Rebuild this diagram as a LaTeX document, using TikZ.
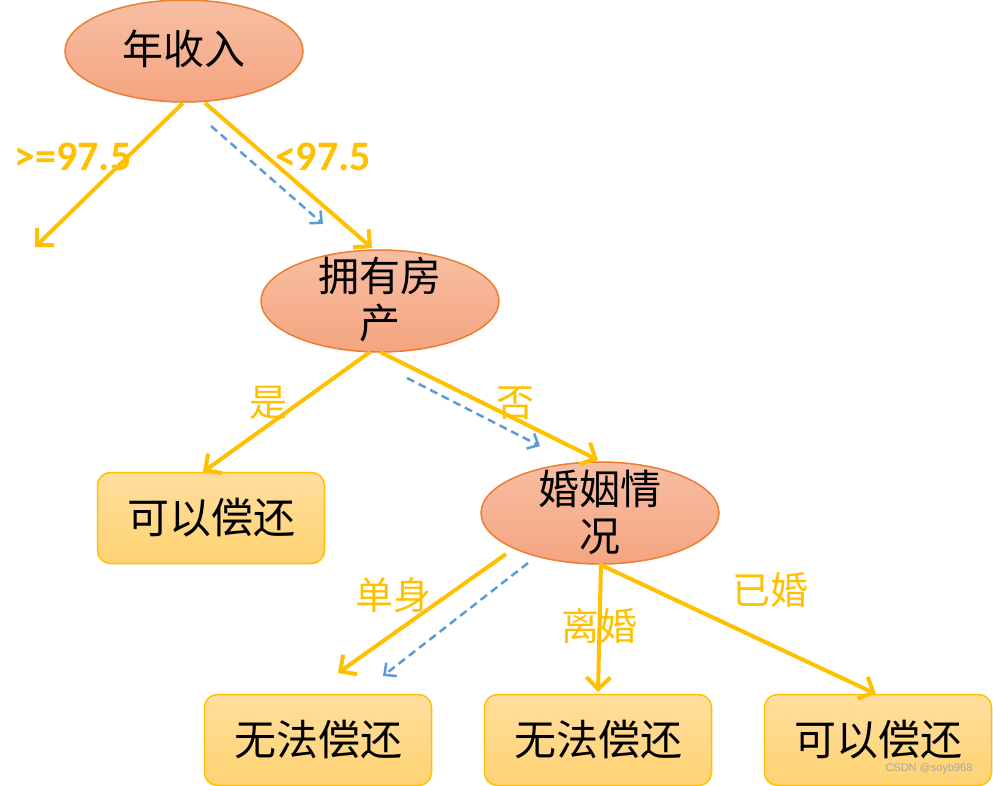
\documentclass[tikz,border=0pt]{standalone}
\usepackage{fontspec}
\newfontfamily\cjk{Noto Sans CJK SC}
\newfontfamily\lat{Carlito}
\newfontfamily\wm{Liberation Sans}
\usetikzlibrary{arrows.meta,shapes.geometric}
\definecolor{yel}{HTML}{FFC000}
\definecolor{ebord}{HTML}{ED7D31}
\definecolor{etop}{HTML}{F7BEA3}
\definecolor{ebot}{HTML}{F5A580}
\definecolor{btop}{HTML}{FFDE9E}
\definecolor{bbot}{HTML}{FFD372}
\definecolor{blu}{HTML}{5B9BD5}
\begin{document}
\begin{tikzpicture}[x=1pt,y=-1pt,
  ell/.style={ellipse, draw=ebord, line width=1.5pt, top color=etop, bottom color=ebot,
    minimum width=238pt, minimum height=102pt, inner sep=0pt},
  etext/.style={align=center, inner sep=0pt, font=\cjk\fontsize{41}{47}\selectfont},
  leaf/.style={rectangle, rounded corners=13pt, draw=yel, line width=1.5pt, top color=btop, bottom color=bbot,
    minimum width=227pt, minimum height=91pt, inner sep=0pt,
    font=\cjk\fontsize{42}{46}\selectfont},
  yarr/.style={draw=yel, line width=4pt, -{Straight Barb[length=12pt,width=24pt]}},
  barr/.style={draw=blu, line width=2.5pt, dash pattern=on 8pt off 5pt, -{Straight Barb[length=9pt,width=17pt]}},
  ylab/.style={text=yel, font=\cjk\fontsize{38}{40}\selectfont},
  nlab/.style={text=yel, font=\lat\bfseries\fontsize{42}{44}\selectfont}
]
\useasboundingbox (0,0) rectangle (993,786);
% nodes
\node[ell] (inc) at (184,51) {};
\node[etext] (inct) at (184,49) {年收入};
\node[ell] (house) at (380,301) {};
\node[etext] (houset) at (380,300) {拥有房\\产};
\node[ell] (mar) at (600,513) {};
\node[etext] (mart) at (600,512) {婚姻情\\况};
\node[leaf] (yes1) at (211,518) {可以偿还};
\node[leaf] (no1) at (318,740) {无法偿还};
\node[leaf] (no2) at (598,740) {无法偿还};
\node[leaf] (yes2) at (878,740) {可以偿还};
% coordinates
\coordinate (a1s) at (183,103);
\coordinate (a1e) at (35,247);
\coordinate (a2s) at (205,103);
\coordinate (a2e) at (372,248);
\coordinate (b1s) at (211,126);
\coordinate (b1e) at (323,224);
\coordinate (a3s) at (370,352);
\coordinate (a3e) at (203,472);
\coordinate (a4s) at (380,352);
\coordinate (a4e) at (598,460);
\coordinate (b2s) at (407,378);
\coordinate (b2e) at (540,446);
\coordinate (a5s) at (506,554);
\coordinate (a5e) at (338,673);
\coordinate (b3s) at (528,563);
\coordinate (b3e) at (383,676);
\coordinate (a6s) at (601,563);
\coordinate (a6e) at (598,692);
\coordinate (a7s) at (601,565);
\coordinate (a7e) at (876,694);
% connectors
\draw[yarr] (a1s) -- (a1e);
\draw[yarr] (a2s) -- (a2e);
\draw[barr] (b1s) -- (b1e);
\draw[yarr] (a3s) -- (a3e);
\draw[yarr] (a4s) -- (a4e);
\draw[barr] (b2s) -- (b2e);
\draw[yarr] (a5s) -- (a5e);
\draw[barr] (b3s) -- (b3e);
\draw[yarr] (a6s) -- (a6e);
\draw[yarr] (a7s) -- (a7e);
% labels
\node[nlab] (l1) at (73,157) {>=97.5};
\node[nlab] (l2) at (323,157) {<97.5};
\node[ylab] (l3) at (268,403) {是};
\node[ylab] (l4) at (515,403) {否};
\node[ylab] (l5) at (393,595) {单身};
\node[ylab] (l6) at (599,626) {离婚};
\node[ylab] (l7) at (770,590) {已婚};
\node[text=gray!70, font=\wm\fontsize{11}{12}\selectfont] (wmk) at (929,769) {CSDN @soyb968};
\end{tikzpicture}
\end{document}
